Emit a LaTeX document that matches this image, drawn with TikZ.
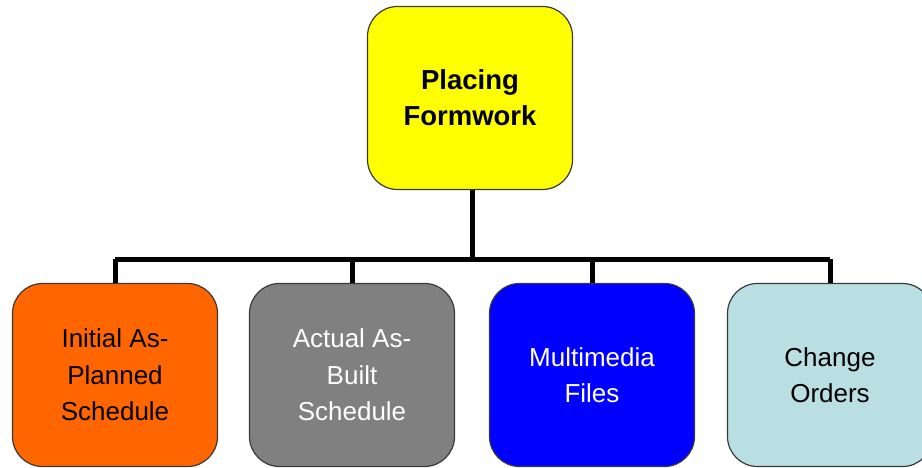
\documentclass[tikz,border=0pt]{standalone}
\usepackage{xcolor}
\usepackage{fontspec}
\setmainfont{Liberation Sans}
\usepackage{tikz}

\definecolor{boxyellow}{HTML}{FFFF00}
\definecolor{boxorange}{HTML}{FF6600}
\definecolor{boxgray}{HTML}{808080}
\definecolor{boxblue}{HTML}{0000FF}
\definecolor{boxcyan}{HTML}{B9DFE2}
\definecolor{boxedge}{HTML}{3A3A3A}

\begin{document}
\begin{tikzpicture}[x=1pt,y=1pt,
  box/.style={draw=boxedge, line width=1.2, rounded corners=30, minimum width=205, minimum height=183, align=center, inner sep=0},
  toptext/.style={font=\fontsize{27.5}{36}\selectfont\bfseries},
  subtext/.style={font=\fontsize{26}{36.5}\selectfont},
  conn/.style={line width=5}]
\clip (0,0) rectangle (922,467);
\useasboundingbox (0,0) rectangle (922,467);
%
\node[box, toptext, fill=boxyellow] (placing) at (470,369) {Placing\\Formwork};
%
\node[box, subtext, fill=boxorange] (initial) at (115,92) {Initial As-\\Planned\\Schedule};
\node[box, subtext, fill=boxgray, text=white] (actual) at (352,92) {Actual As-\\Built\\Schedule};
\node[box, subtext, fill=boxblue, text=white] (media) at (592,92) {Multimedia\\Files};
\node[box, subtext, fill=boxcyan] (orders) at (830,92) {Change\\Orders};
%
\coordinate (bus) at (472,208);
\draw[conn] (placing.south -| bus) -- (bus);
\draw[conn] (initial.north |- bus) -- (orders.north |- bus);
\draw[conn] (initial.north |- bus) -- (initial.north);
\draw[conn] (actual.north |- bus) -- (actual.north);
\draw[conn] (media.north |- bus) -- (media.north);
\draw[conn] (orders.north |- bus) -- (orders.north);
\end{tikzpicture}
\end{document}
